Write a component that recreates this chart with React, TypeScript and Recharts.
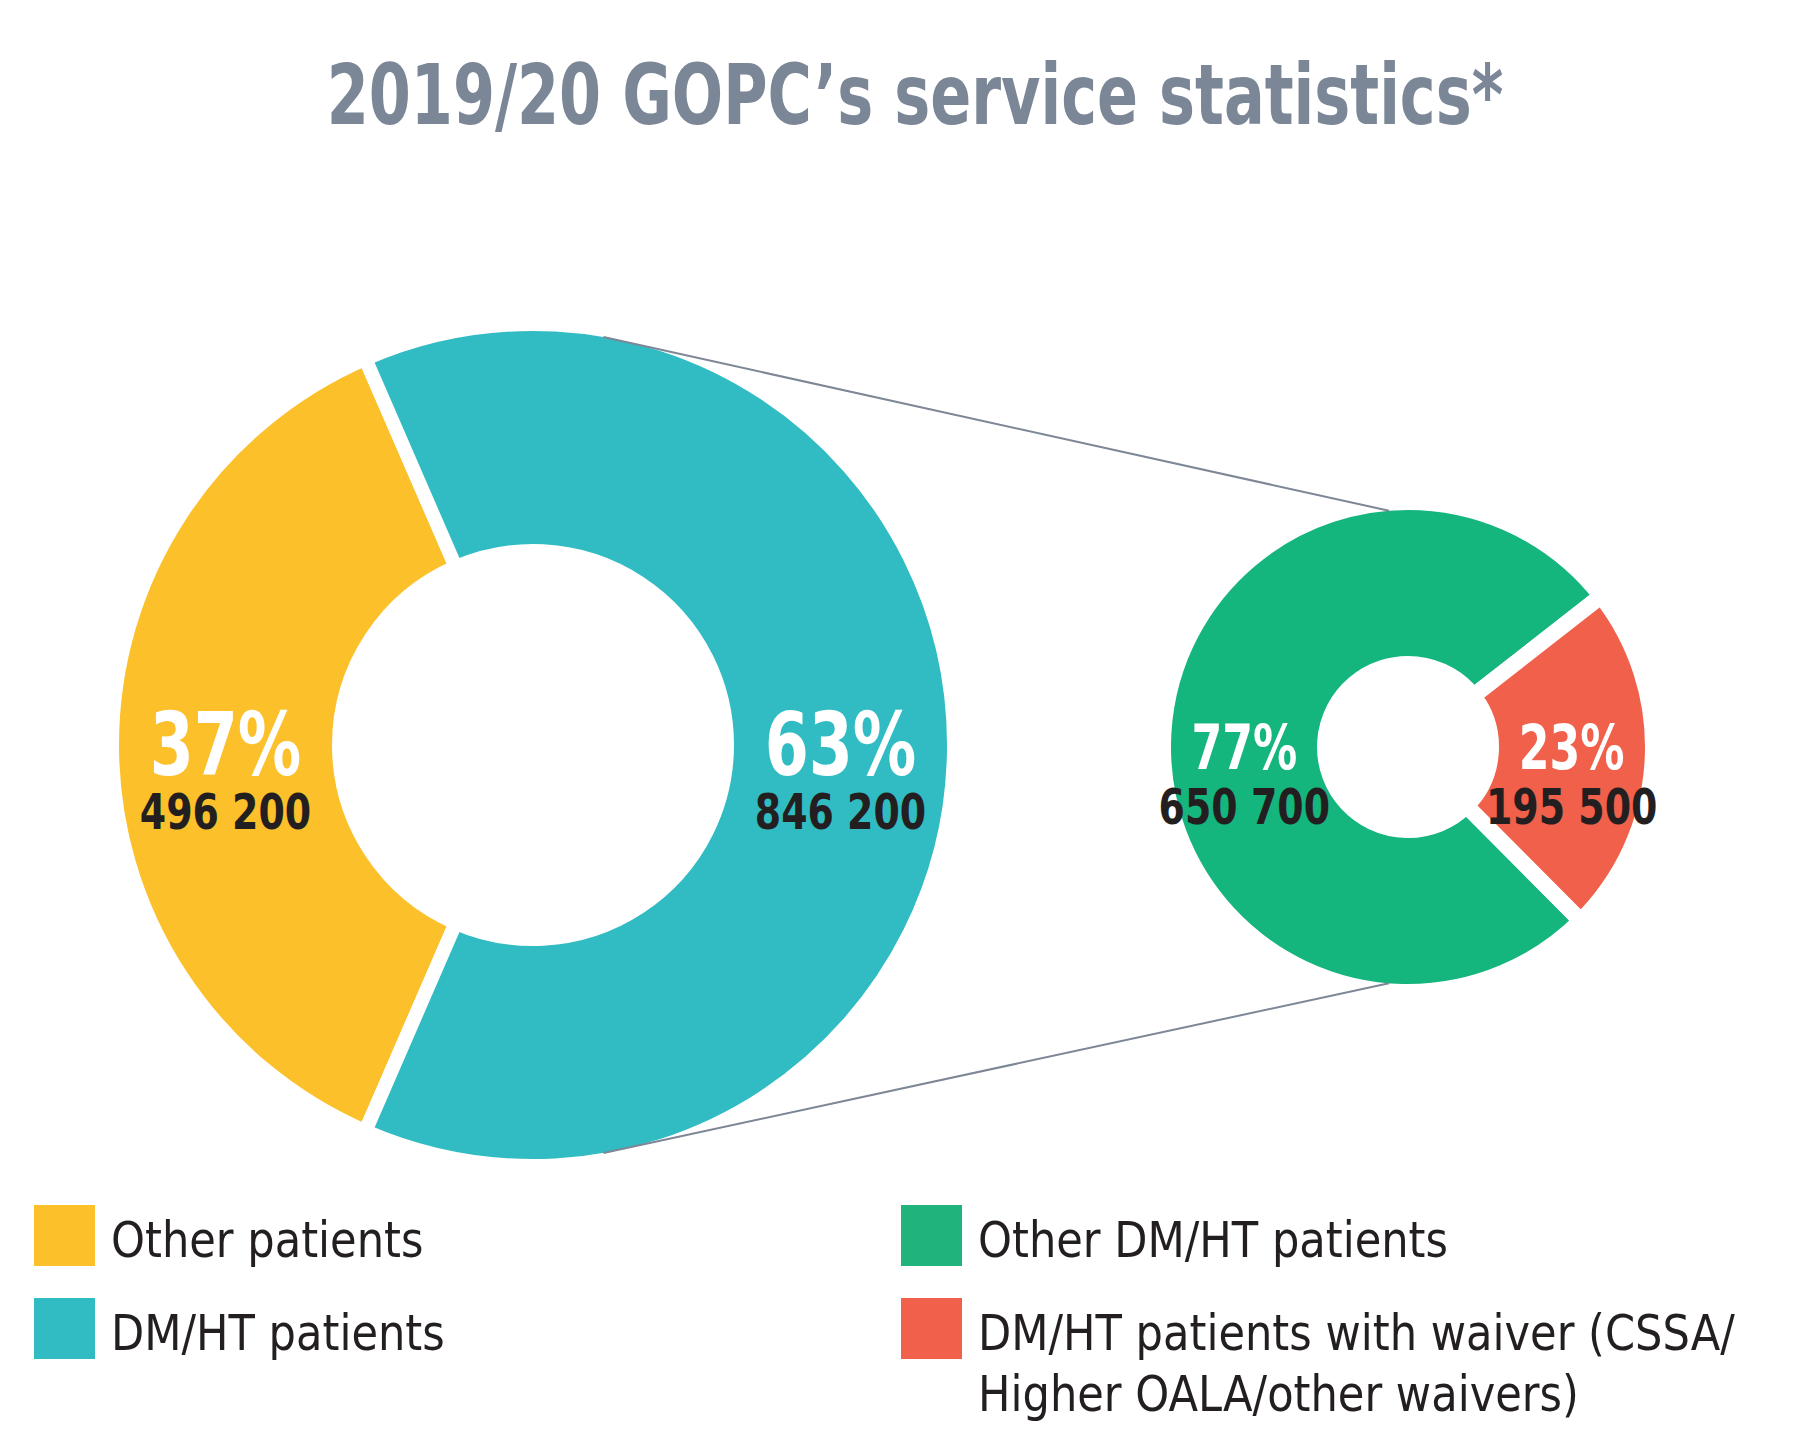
import React from 'react';
import { PieChart, Pie, Cell } from 'recharts';

// ---- data ----
const titleText = '2019/20 GOPC\u2019s service statistics*';

const mainCategories = ['Other patients', 'DM/HT patients'];
const mainValues = [496200, 846200];
const mainColors = ['#FCC02A', '#31BCC3'];

const subCategories = ['Other DM/HT patients', 'DM/HT patients with waiver (CSSA/Higher OALA/other waivers)'];
const subValues = [650700, 195500];
const subColors = ['#15B57E', '#F0604A'];

const legendLines = [
  ['Other patients'],
  ['DM/HT patients'],
  ['Other DM/HT patients'],
  ['DM/HT patients with waiver (CSSA/', 'Higher OALA/other waivers)'],
];
const legendColors = ['#FCC02A', '#31BCC3', '#20B37B', '#F0604A'];

const mainData = mainCategories.map((name, i) => ({ name, value: mainValues[i] }));
const subData = subCategories.map((name, i) => ({ name, value: subValues[i] }));

// ---- layout ----
const W = 1800;
const H = 1440;
const FONT = "'DejaVu Sans Condensed', 'DejaVu Sans', 'Liberation Sans', sans-serif";
const BIG = { cx: 533, cy: 745, r: 414, ri: 201, gap: 14 };
const SMALL = { cx: 1408, cy: 747, r: 237, ri: 91, gap: 16 };
const RAD = Math.PI / 180;

const mainShare0 = mainValues[0] / (mainValues[0] + mainValues[1]);
const mainStart = 180 - mainShare0 * 180;
const subStart = 38;

const fmt = (v: number) => String(v).replace(/\B(?=(\d{3})+(?!\d))/g, ' ');

type STProps = {
  x: number; y: number; sx: number; size: number; weight: number; fill: string;
  anchor?: 'start' | 'middle' | 'end'; children: React.ReactNode;
};
const SText = ({ x, y, sx, size, weight, fill, anchor = 'start', children }: STProps) => (
  <text
    transform={`translate(${x},${y}) scale(${sx},1)`}
    x={0}
    y={0}
    textAnchor={anchor}
    fill={fill}
    stroke="none"
    style={{ fontFamily: FONT, fontWeight: weight, fontSize: size }}
  >
    {children}
  </text>
);

const makeLabel = (pctSize: number, pctSx: number, pctDy: number, numSize: number, numSx: number, numDy: number) => (props: any) => {
  const { cx, cy, midAngle, innerRadius, outerRadius, percent, value } = props;
  const r = (Number(innerRadius) + Number(outerRadius)) / 2;
  const x = cx + r * Math.cos(-midAngle * RAD);
  return (
    <g>
      <SText x={x} y={cy + pctDy} sx={pctSx} size={pctSize} weight={700} fill="#ffffff" anchor="middle">
        {Math.round(percent * 100)}%
      </SText>
      <SText x={x} y={cy + numDy} sx={numSx} size={numSize} weight={700} fill="#231F20" anchor="middle">
        {fmt(value)}
      </SText>
    </g>
  );
};

const pt = (c: { cx: number; cy: number; r: number }, deg: number) => ({
  x: c.cx + c.r * Math.cos(-deg * RAD),
  y: c.cy + c.r * Math.sin(-deg * RAD),
});

export default function App() {
  const a1 = pt(BIG, 80.2);
  const b1 = pt(SMALL, 94.6);
  const a2 = pt(BIG, -80.2);
  const b2 = pt(SMALL, -94.6);
  return (
    <div style={{ position: 'absolute', left: 0, top: 0, width: W, height: H, background: '#ffffff' }}>
      <div style={{ position: 'absolute', left: 0, top: 0 }}>
        <PieChart width={W} height={H} margin={{ top: 0, right: 0, bottom: 0, left: 0 }}>
          <Pie
            data={mainData}
            dataKey="value"
            nameKey="name"
            cx={BIG.cx}
            cy={BIG.cy}
            innerRadius={BIG.ri - BIG.gap / 2}
            outerRadius={BIG.r + BIG.gap / 2}
            startAngle={mainStart}
            endAngle={mainStart + 360}
            stroke="#ffffff"
            strokeWidth={BIG.gap}
            isAnimationActive={false}
            labelLine={false}
            label={makeLabel(88, 0.8, 30, 49, 0.86, 84)}
          >
            {mainData.map((d, i) => (
              <Cell key={d.name} fill={mainColors[i]} />
            ))}
          </Pie>
          <Pie
            data={subData}
            dataKey="value"
            nameKey="name"
            cx={SMALL.cx}
            cy={SMALL.cy}
            innerRadius={SMALL.ri - SMALL.gap / 2}
            outerRadius={SMALL.r + SMALL.gap / 2}
            startAngle={subStart}
            endAngle={subStart + 360}
            stroke="#ffffff"
            strokeWidth={SMALL.gap}
            isAnimationActive={false}
            labelLine={false}
            label={makeLabel(63, 0.78, 22, 49, 0.86, 77)}
          >
            {subData.map((d, i) => (
              <Cell key={d.name} fill={subColors[i]} />
            ))}
          </Pie>
        </PieChart>
      </div>
      <svg width={W} height={H} style={{ position: 'absolute', left: 0, top: 0, pointerEvents: 'none' }}>
        <line x1={a1.x} y1={a1.y} x2={b1.x} y2={b1.y} stroke="#7D8796" strokeWidth={2} />
        <line x1={a2.x} y1={a2.y} x2={b2.x} y2={b2.y} stroke="#7D8796" strokeWidth={2} />
        <SText x={915} y={124} sx={0.8} size={84} weight={700} fill="#7B8796" anchor="middle">
          {titleText}
        </SText>
        {legendLines.map((lines, i) => {
          const col = i < 2 ? 0 : 1;
          const row = i % 2;
          const x = col === 0 ? 34 : 901;
          const y = row === 0 ? 1205 : 1298;
          return (
            <g key={i}>
              <rect x={x} y={y} width={61} height={61} fill={legendColors[i]} />
              {lines.map((t, j) => (
                <SText key={j} x={x + 77} y={y + 52 + j * 61} sx={0.96} size={50} weight={400} fill="#231F20">
                  {t}
                </SText>
              ))}
            </g>
          );
        })}
      </svg>
    </div>
  );
}
